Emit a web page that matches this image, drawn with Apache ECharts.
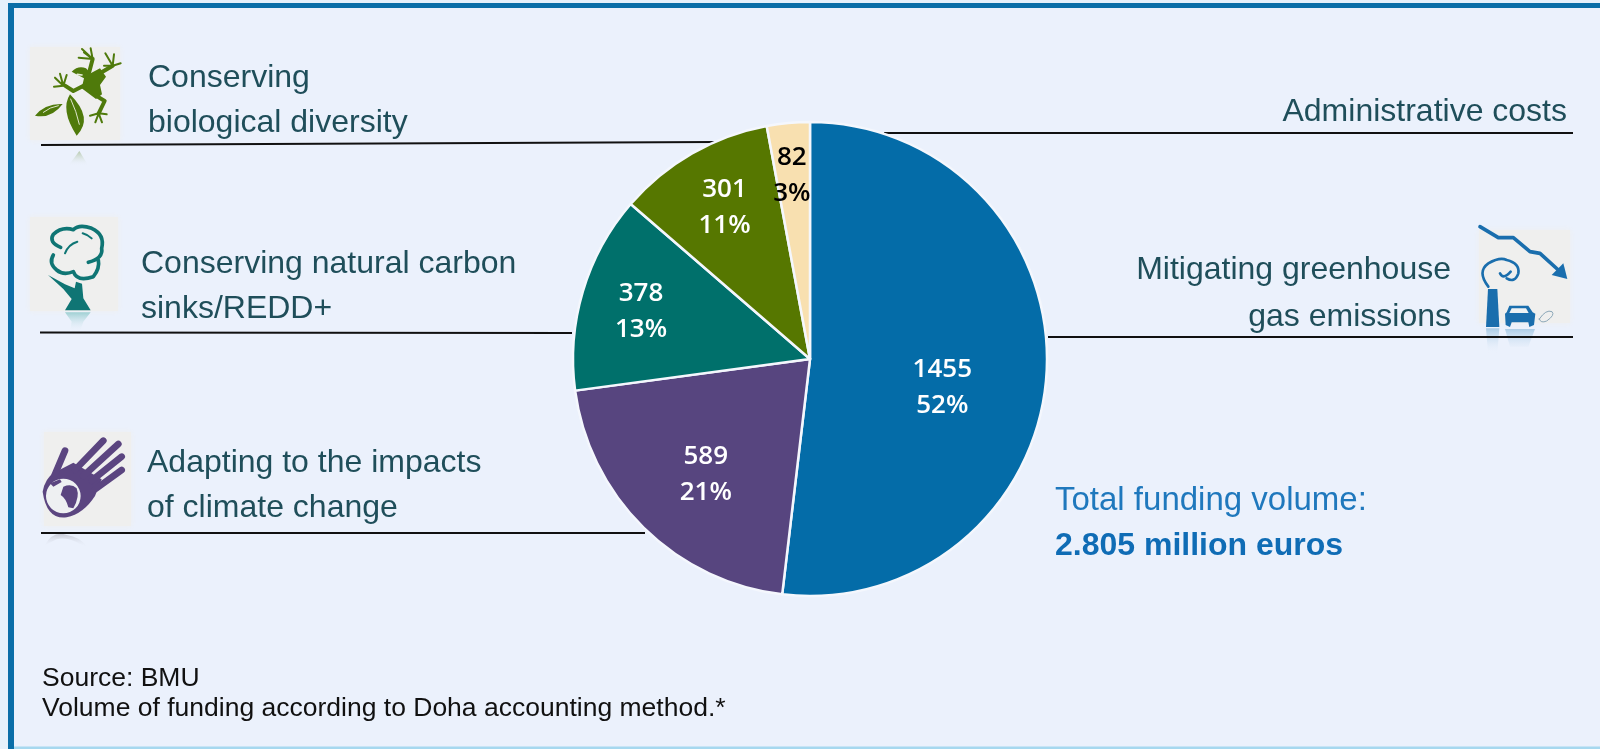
<!DOCTYPE html>
<html><head><meta charset="utf-8">
<style>html,body{margin:0;padding:0;background:#ebf1fc}#c{width:1600px;height:749px}</style>
<script src="https://cdn.jsdelivr.net/npm/echarts@6/dist/echarts.min.js"></script>
</head><body><div id="c"></div>
<script>
// ---- data ----
const categories = ['Mitigating greenhouse gas emissions','Adapting to the impacts of climate change','Conserving natural carbon sinks/REDD+','Conserving biological diversity','Administrative costs'];
const funding = [1455,589,378,301,82];
const shares = [52,21,13,11,3];
// ---- style ----
const sliceColors = ['#046ca8','#57457f','#00706b','#567700','#f8e0b0'];
const labelColors = ['#fff','#fff','#fff','#fff','#000'];
const labelOffsets = [[11,21.5],[-19,29],[-52.5,-13],[-25,-46],[-7,-62.5]];
const TEXT='#1f4e5a', FONT='"Liberation Sans",Arial,sans-serif';
// [text, x, baselineY, align, size, color, weight]
const texts = [
 ['Conserving',148,89,'left',32,TEXT,'normal'],
 ['biological diversity',148,134,'left',32,TEXT,'normal'],
 ['Conserving natural carbon',141,275,'left',32,TEXT,'normal'],
 ['sinks/REDD+',141,320,'left',32,TEXT,'normal'],
 ['Adapting to the impacts',147,474,'left',32,TEXT,'normal'],
 ['of climate change',147,519,'left',32,TEXT,'normal'],
 ['Administrative costs',1567,123,'right',32,TEXT,'normal'],
 ['Mitigating greenhouse',1451,281,'right',32,TEXT,'normal'],
 ['gas emissions',1451,328,'right',32,TEXT,'normal'],
 ['Total funding volume:',1055,512,'left',33,'#1f78bd','normal'],
 ['2.805 million euros',1055,557,'left',32,'#0f6cb5','bold'],
 ['Source: BMU',42,688,'left',26.5,'#111','normal'],
 ['Volume of funding according to Doha accounting method.*',42,718,'left',26.5,'#111','normal']
];
const leaders = [[41,145,715,142],[40,332.5,572,333],[41,533,645,533],[884,133,1573,133],[1048,337,1573,337]];
const iconBoxes = [[30,47,90,93],[30,217,88,94],[44,432,87,94],[1479,230,91,93]];

const g = [];
g.push({type:'rect',shape:{x:0,y:3,width:1600,height:5},style:{fill:'#0a6ea8'}});
g.push({type:'rect',shape:{x:8,y:3,width:6,height:746},style:{fill:'#0a6ea8'}});
g.push({type:'rect',shape:{x:0,y:3,width:8,height:746},style:{fill:'#e6f1fb'}});
g.push({type:'rect',shape:{x:0,y:0,width:1600,height:3},style:{fill:'#e6f1fb'}});
g.push({type:'rect',shape:{x:14,y:746.5,width:1586,height:2.5},style:{fill:'#a6d8ef'}});
iconBoxes.forEach(b=>g.push({type:'rect',shape:{x:b[0],y:b[1],width:b[2],height:b[3]},style:{fill:'#efefee',shadowColor:'#efefee',shadowBlur:6}}));
function fade(c){return {type:'linear',x:0,y:0,x2:0,y2:1,colorStops:[{offset:0,color:c},{offset:1,color:'rgba(235,241,252,0)'}]};}
let iconId=0;
function icon(ox,oy,d,style){
  const name='iconShape'+(iconId++);
  echarts.graphic.registerShape(name,echarts.graphic.extendPath(d));
  g.push({type:name,x:ox,y:oy,scaleX:1/3,scaleY:1/3,style:Object.assign({fill:'none',lineCap:'round',lineJoin:'round'},style)});
}
// frog
const FR='#4f7a0b';
icon(20,35,'M155 110 Q175 90 198 100 L212 115 L240 100 L258 125 L240 150 L246 178 L228 192 L205 175 L185 160 L192 130 Z',{fill:FR});
icon(20,35,'M195 150 L160 168 L135 152 M208 110 L218 72 M245 112 L278 92 M228 182 L254 198 L236 235',{stroke:FR,lineWidth:12});
icon(20,35,'M130 152 L105 128 M130 152 L120 116 M130 152 L140 120 M130 152 L102 155 M218 72 L186 42 M218 72 L212 40 M218 72 L176 68 M218 72 L192 52 M278 92 L256 55 M278 92 L282 58 M278 92 L302 85 M278 92 L252 92 M236 235 L210 242 M236 235 L226 262 M236 235 L246 262 M236 235 L260 238',{stroke:FR,lineWidth:6});
icon(20,35,'M150 178 Q120 225 170 302 Q222 250 150 178 Z M45 242 Q75 205 128 207 Q95 252 45 242 Z',{fill:FR});
icon(20,35,'M152 192 Q170 230 178 268 M70 232 Q90 216 115 212',{stroke:'#dfe6cc',lineWidth:3});
icon(20,35,'M172 118 L186 120',{stroke:'#e6ecd8',lineWidth:5});
icon(20,35,'M178 348 L205 392 L145 392 Z',{fill:fade('#b5c8ab')});
// tree
const TR='#0f7574';
icon(20,205,'M122 127 Q85 112 100 88 Q125 64 160 74 Q178 56 215 70 Q255 88 245 130 Q250 160 205 172 M100 150 Q85 175 110 195 Q130 212 160 200 Q172 232 220 215 Q240 190 235 165',{stroke:TR,lineWidth:11});
icon(20,205,'M135 145 Q145 118 172 110 M188 85 Q205 90 215 100',{stroke:TR,lineWidth:6});
icon(20,205,'M168 230 L186 236 L190 280 L212 316 L135 316 L155 282 L130 252 L84 210 L135 238 L164 250 Z',{fill:TR});
icon(20,205,'M135 322 L212 322 L190 350 L180 380 L150 380 L155 350 Z',{fill:fade('#9fd0d3')});
// hand
const HD='#5b4580';
icon(30,420,'M38 215 Q45 175 72 158 L130 128 L215 178 L195 228 Q160 282 110 292 Q50 300 38 215 Z',{fill:HD});
icon(30,420,'M72 170 L105 92 M135 150 L220 62 M160 168 L265 72 M185 182 L275 110 M195 208 L275 150',{stroke:HD,lineWidth:20});
icon(30,420,'M100 176 A52 52 0 1 1 99.9 176 Z',{fill:'#eef0f2'});
icon(30,420,'M100 200 Q125 190 140 205 Q150 230 130 265 L115 262 Q108 235 92 225 Z M60 190 L90 178 L95 186 L70 200 Z',{fill:HD});
icon(30,420,'M45 375 Q70 330 110 345 Q150 350 172 382 L150 372 Q110 350 80 358 Z',{fill:fade('#c6c9d4')});
// emission
const EM='#1a6ead';
icon(1460,215,'M60 35 L115 68 L160 68 L210 110 L240 115 L295 165',{stroke:EM,lineWidth:11});
icon(1460,215,'M310 145 L322 192 L275 180 Z',{fill:EM});
icon(1460,215,'M84 222 L112 222 L118 336 L78 336 Z',{fill:EM});
icon(1460,215,'M85 215 Q50 170 85 145 Q120 125 140 135 Q180 145 175 175 Q165 205 140 190 M120 175 Q130 195 152 170',{stroke:EM,lineWidth:8});
icon(1460,215,'M148 272 L205 272 L218 292 L226 296 L222 330 L208 336 L205 322 L155 322 L150 336 L137 330 L135 296 L140 292 Z',{fill:EM});
icon(1460,215,'M155 280 L198 280 L206 294 L148 294 Z',{fill:'#eef2f4'});
icon(1460,215,'M238 312 Q258 282 276 290 Q286 300 260 318 Q242 326 238 312 Z',{stroke:'#8ba7b8',lineWidth:3});
icon(1460,215,'M78 340 L118 340 L112 415 L84 415 Z M135 342 L225 342 L205 395 L150 395 Z',{fill:fade('#a9cbe5')});
leaders.forEach(l=>g.push({type:'line',shape:{x1:l[0],y1:l[1],x2:l[2],y2:l[3]},style:{stroke:'#111',lineWidth:2}}));
texts.forEach(t=>g.push({type:'text',x:t[1],y:t[2]-0.345*t[4],style:{text:t[0],align:t[3],verticalAlign:'middle',fill:t[5],font:`${t[6]} ${t[4]}px ${FONT}`}}));

const chart = echarts.init(document.getElementById('c'),null,{renderer:'canvas'});
chart.setOption({
 animation:false,
 backgroundColor:'#ebf1fc',
 graphic:{elements:g},
 series:[{
  type:'pie',center:[810,359],radius:[0,237],startAngle:90,clockwise:true,silent:true,
  itemStyle:{borderColor:'#f4f7fd',borderWidth:2.5},
  labelLine:{show:false},
  data:funding.map((v,i)=>({
    name:categories[i],value:v,
    itemStyle:{color:sliceColors[i]},
    label:{show:true,position:'inside',offset:labelOffsets[i],color:labelColors[i],
      fontFamily:'"Open Sans",sans-serif',fontWeight:600,fontSize:26,lineHeight:36,align:'center',
      formatter:v+'\n'+shares[i]+'%'}
  }))
 }]
});
</script></body></html>
